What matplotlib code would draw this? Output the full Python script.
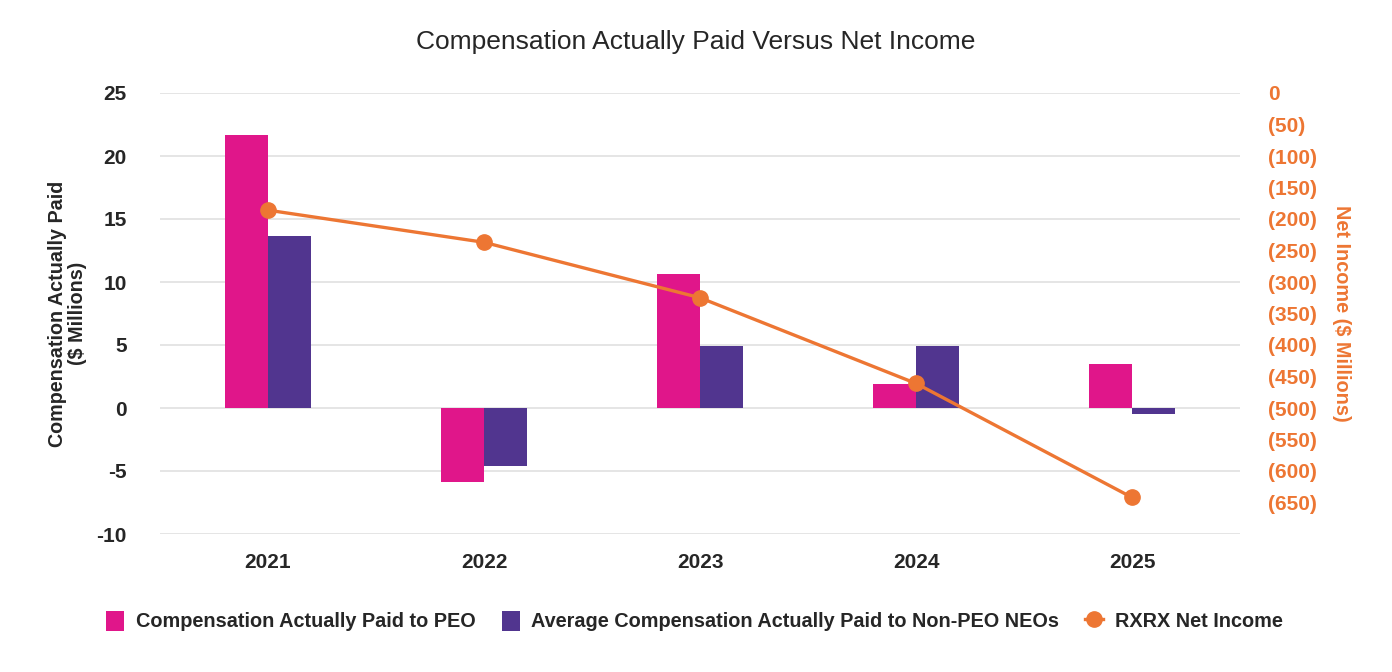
import matplotlib.pyplot as plt
import numpy as np

plt.rcParams.update({
    'font.family': ['Liberation Sans', 'DejaVu Sans'],
    'axes.unicode_minus': False,
})

# Data
years = ['2021', '2022', '2023', '2024', '2025']
cap_peo = [21.7, -5.85, 10.6, 1.9, 3.5]          # $ millions
cap_neo = [13.65, -4.6, 4.9, 4.9, -0.45]         # $ millions
net_income = [-186, -237, -325, -461, -642]      # $ millions

PINK = '#E0168A'
PURPLE = '#51358F'
ORANGE = '#ED7633'
TEXT = '#262626'

fig = plt.figure(figsize=(13.92, 6.72), dpi=100)
ax = fig.add_axes([160 / 1392, 1 - 534 / 672, 1080 / 1392, 441 / 672])

x = np.arange(len(years))
w = 0.2
ax.bar(x - w / 2, cap_peo, w, color=PINK, label='Compensation Actually Paid to PEO', zorder=2)
ax.bar(x + w / 2, cap_neo, w, color=PURPLE,
       label='Average Compensation Actually Paid to Non-PEO NEOs', zorder=2)

ax.set_xlim(-0.5, len(years) - 0.5)
ax.set_ylim(-10, 25)
ax.set_yticks(np.arange(-10, 26, 5))
ax.set_xticks(x)
ax.set_xticklabels(years)
ax.grid(axis='y', color='#E3E3E3', linewidth=1.3, zorder=0)
ax.set_axisbelow(True)
for s in ax.spines.values():
    s.set_visible(False)
ax.tick_params(axis='y', length=0, pad=24, labelsize=15, labelcolor=TEXT)
ax.tick_params(axis='x', length=0, pad=14, labelsize=15, labelcolor=TEXT)
for lbl in ax.get_xticklabels() + ax.get_yticklabels():
    lbl.set_fontweight('bold')

ax.set_ylabel('Compensation Actually Paid\n($ Millions)', fontsize=14.2,
              fontweight='bold', color=TEXT, linespacing=1.05)
ax.yaxis.set_label_coords(-0.068, 0.5)

ax2 = ax.twinx()
ax2.plot(x, net_income, color=ORANGE, linewidth=2.4, marker='o', markersize=11,
         label='RXRX Net Income', zorder=3)
ax2.set_ylim(-700, 0)
ax2.set_yticks(np.arange(0, -700, -50))
ax2.set_yticklabels(['0' if v == 0 else f'({abs(v)})' for v in np.arange(0, -700, -50)])
for s in ax2.spines.values():
    s.set_visible(False)
ax2.tick_params(axis='y', length=0, pad=20, labelsize=15, labelcolor=ORANGE)
for lbl in ax2.get_yticklabels():
    lbl.set_fontweight('bold')
ax2.set_ylabel('Net Income ($ Millions)', fontsize=14.3, fontweight='bold',
               color=ORANGE, rotation=270)
ax2.yaxis.set_label_coords(1.103, 0.5)

fig.suptitle('Compensation Actually Paid Versus Net Income', y=1 - 42 / 672,
             va='center', fontsize=19, color=TEXT)

h1, l1 = ax.get_legend_handles_labels()
h2, l2 = ax2.get_legend_handles_labels()
leg = fig.legend(h1 + h2, l1 + l2, loc='center', bbox_to_anchor=(0.499, 1 - 621 / 672),
                 ncol=3, frameon=False, handlelength=0.9, handleheight=1.2,
                 handletextpad=0.6, columnspacing=1.3,
                 prop={'size': 14.3, 'weight': 'bold'})
for t in leg.get_texts():
    t.set_color(TEXT)

fig.savefig('out.png', dpi=100)
